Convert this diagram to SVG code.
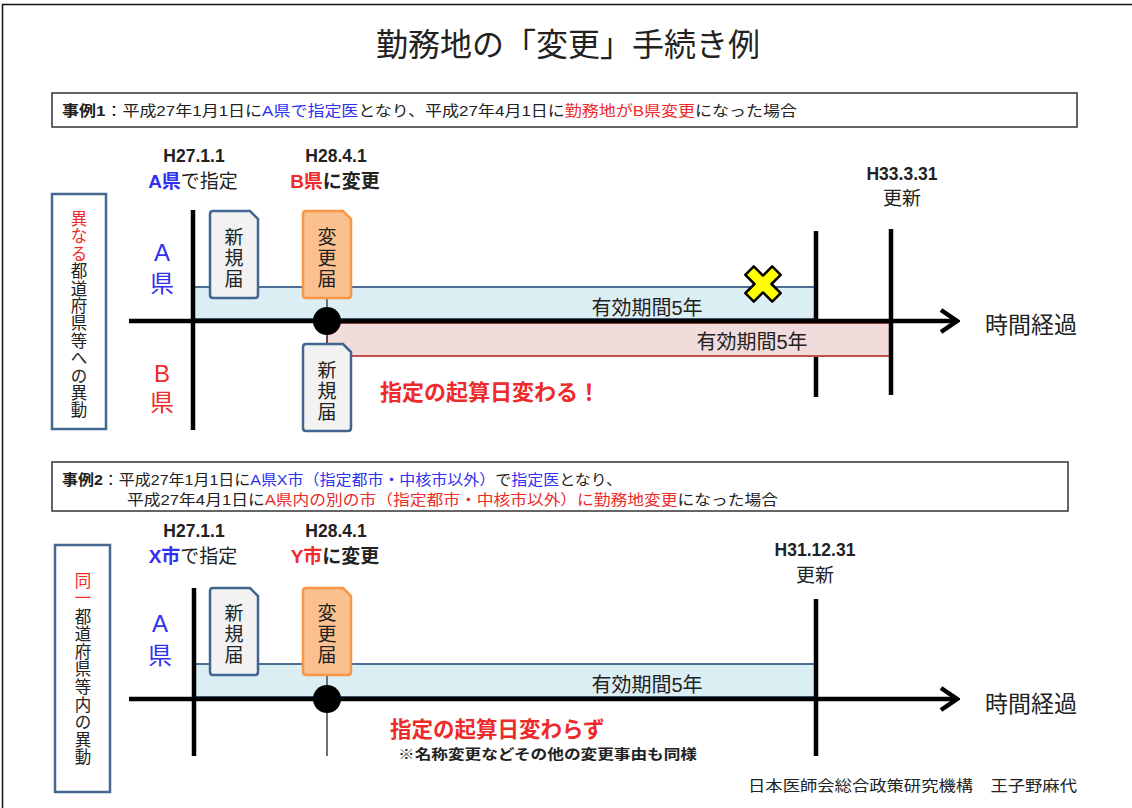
<svg xmlns="http://www.w3.org/2000/svg" xmlns:xlink="http://www.w3.org/1999/xlink" width="1132" height="808" viewBox="0 0 1132 808">
<style>
text{font-family:"Liberation Sans","Noto Sans CJK JP",sans-serif;fill:#222}
.jp{font-family:"Noto Sans CJK JP",sans-serif}
.b{fill:#3030f0}
.r{fill:#ee2a2a}
.bold{font-weight:bold}
.case{font-size:15px}
.date{font-size:17.5px;font-weight:bold;text-anchor:middle}
.lbl{font-size:19px;text-anchor:middle}
.pref{font-size:24px;text-anchor:middle}
.vt{font-size:16.5px;text-anchor:middle}
.doct{font-size:19px;text-anchor:middle}
.period{font-size:20px;text-anchor:middle}
.time{font-size:23px}
.frame{fill:none;stroke:#111;stroke-width:1.5}
.box{fill:#fff;stroke:#333;stroke-width:1.5}
.side{fill:#fff;stroke:#44688f;stroke-width:2.5}
.bandb{fill:#dbeef4;stroke:#4a6e96;stroke-width:2}
.bandr{fill:#f2dcdb;stroke:#c0504d;stroke-width:2}
.vline{stroke:#000;stroke-width:4.5;fill:none}
.axis{stroke:#000;stroke-width:4.5;fill:none;marker-end:url(#arr)}
.thin{stroke:#444;stroke-width:1.5;fill:none}
.docnew{fill:#f2f2f2;stroke:#41668f;stroke-width:2.5}
.docchg{fill:#fac08f;stroke:#f79646;stroke-width:2.5}
</style>
<defs>
<marker id="arr" viewBox="0 0 22 28" refX="19" refY="14" markerWidth="22" markerHeight="28" markerUnits="userSpaceOnUse" orient="auto">
<path d="M3,3 L19,14 L3,25" fill="none" stroke="#000" stroke-width="4.5"/>
</marker>
<path id="doc" d="M3,0 H40 L48,8 V84 Q48,87 45,87 H3 Q0,87 0,84 V3 Q0,0 3,0 Z"/>
</defs>
<rect width="1132" height="808" fill="#fff"/>
<path class="frame" d="M2.5,808 V4.5 H1132"/>

<g id="title">
<text x="568" y="56" text-anchor="middle" font-size="32" class="jp" fill="#111">勤務地の「変更」手続き例</text>
</g>

<!-- Case 1 -->
<g id="case1-header">
<rect class="box" x="52" y="93" width="1025" height="34"/>
<text class="case" x="62" y="116" textLength="735" lengthAdjust="spacingAndGlyphs"><tspan class="bold">事例1</tspan>：平成27年1月1日に<tspan class="b">A県で指定医</tspan>となり、平成27年4月1日に<tspan class="r">勤務地がB県変更</tspan>になった場合</text>
</g>

<g id="case1-side">
<rect class="side" x="52" y="194" width="54" height="235"/>
<text class="vt" x="79" y="225"><tspan class="r" x="79" dy="0">異</tspan><tspan class="r" x="79" dy="17.4">な</tspan><tspan class="r" x="79" dy="17.4">る</tspan><tspan x="79" dy="17.4">都</tspan><tspan x="79" dy="17.4">道</tspan><tspan x="79" dy="17.4">府</tspan><tspan x="79" dy="17.4">県</tspan><tspan x="79" dy="17.4">等</tspan><tspan x="79" dy="17.4">へ</tspan><tspan x="79" dy="17.4">の</tspan><tspan x="79" dy="17.4">異</tspan><tspan x="79" dy="17.4">動</tspan></text>
</g>

<g id="case1-labels">
<text class="pref b" x="162" y="261">A</text>
<text class="pref b" x="162" y="292">県</text>
<text class="pref r" x="162" y="382">B</text>
<text class="pref r" x="162" y="411">県</text>
<text class="date" x="194" y="162">H27.1.1</text>
<text class="lbl" x="193" y="188"><tspan class="b bold">A県</tspan>で指定</text>
<text class="date" x="336" y="162">H28.4.1</text>
<text class="lbl bold" x="335" y="188"><tspan class="r">B県</tspan>に変更</text>
<text class="date" x="902" y="180">H33.3.31</text>
<text class="lbl" x="902" y="205" font-size="18">更新</text>
</g>

<g id="case1-bands">
<rect class="bandb" x="194" y="287" width="622" height="32"/>
</g>

<g id="connectors">
<line class="vline" x1="816" y1="231" x2="816" y2="397"/>
<rect class="bandr" x="327" y="323" width="564" height="33"/>
<line class="vline" x1="891" y1="229" x2="891" y2="395"/>
<line class="axis" x1="129" y1="321" x2="957" y2="321"/>
<line class="vline" x1="193" y1="210" x2="193" y2="430" stroke-width="5"/>
<line class="thin" x1="327" y1="297" x2="327" y2="343"/>
</g>

<g id="case1-docs">
<g id="doc-new-a"><use xlink:href="#doc" x="210" y="211" class="docnew"/>
<text class="doct" x="234"><tspan x="234" y="244">新</tspan><tspan x="234" y="265">規</tspan><tspan x="234" y="286">届</tspan></text></g>
<g id="doc-chg-1"><use xlink:href="#doc" x="303" y="211" class="docchg"/>
<text class="doct" x="327"><tspan x="327" y="244">変</tspan><tspan x="327" y="265">更</tspan><tspan x="327" y="286">届</tspan></text></g>
<g id="doc-new-b"><use xlink:href="#doc" x="303" y="344" class="docnew"/>
<text class="doct" x="327"><tspan x="327" y="377">新</tspan><tspan x="327" y="398">規</tspan><tspan x="327" y="419">届</tspan></text></g>
<circle cx="327" cy="321" r="14" fill="#000"/>
</g>

<g id="case1-cross">
<path d="M-6,-19 H6 V-6 H19 V6 H6 V19 H-6 V6 H-19 V-6 H-6 Z" transform="translate(763,284) rotate(45)" fill="#ffff00" stroke="#000" stroke-width="2.5" stroke-linejoin="round"/>
</g>

<g id="case1-text">
<text class="period" x="647" y="315">有効期間5年</text>
<text class="period" x="752" y="349">有効期間5年</text>
<text class="time" x="985" y="333">時間経過</text>
<text class="r bold" x="380" y="400" font-size="22">指定の起算日変わる！</text>
</g>

<!-- Case 2 -->
<g id="case2-header">
<rect class="box" x="52" y="462" width="1016" height="49"/>
<text class="case" x="62" y="485" textLength="560" lengthAdjust="spacingAndGlyphs"><tspan class="bold">事例2</tspan>：平成27年1月1日に<tspan class="b">A県X市（指定都市・中核市以外）</tspan>で<tspan class="b">指定医</tspan>となり、</text>
<text class="case" x="127" y="505" textLength="651" lengthAdjust="spacingAndGlyphs">平成27年4月1日に<tspan class="r">A県内の別の市（指定都市・中核市以外）に勤務地変更</tspan>になった場合</text>
</g>

<g id="case2-side">
<rect class="side" x="55" y="545" width="55" height="247"/>
<text class="vt" x="83" y="587" font-size="16"><tspan class="r" x="83" dy="0">同</tspan><tspan class="r" x="83" dy="17">一</tspan><tspan x="83" dy="18.5">都</tspan><tspan x="83" dy="17.6">道</tspan><tspan x="83" dy="17.6">府</tspan><tspan x="83" dy="17.6">県</tspan><tspan x="83" dy="17.6">等</tspan><tspan x="83" dy="17.6">内</tspan><tspan x="83" dy="17.6">の</tspan><tspan x="83" dy="17.6">異</tspan><tspan x="83" dy="17.6">動</tspan></text>
</g>

<g id="case2-labels">
<text class="pref b" x="160" y="632">A</text>
<text class="pref b" x="160" y="664">県</text>
<text class="date" x="194" y="537">H27.1.1</text>
<text class="lbl" x="193" y="563"><tspan class="b bold">X市</tspan>で指定</text>
<text class="date" x="336" y="537">H28.4.1</text>
<text class="lbl bold" x="335" y="563"><tspan class="r">Y市</tspan>に変更</text>
<text class="date" x="815" y="556">H31.12.31</text>
<text class="lbl" x="815" y="582" font-size="18">更新</text>
</g>

<g id="case2-band">
<rect class="bandb" x="194" y="664" width="622" height="33"/>
</g>

<g id="connectors2">
<line class="vline" x1="816" y1="599" x2="816" y2="756"/>
<line class="axis" x1="129" y1="699" x2="957" y2="699"/>
<line class="vline" x1="194" y1="588" x2="194" y2="756" stroke-width="5"/>
<line class="thin" x1="327" y1="675" x2="327" y2="756"/>
</g>

<g id="case2-docs">
<g id="doc-new-2"><use xlink:href="#doc" x="210" y="588" class="docnew"/>
<text class="doct" x="234"><tspan x="234" y="620">新</tspan><tspan x="234" y="641">規</tspan><tspan x="234" y="662">届</tspan></text></g>
<g id="doc-chg-2"><use xlink:href="#doc" x="303" y="588" class="docchg"/>
<text class="doct" x="327"><tspan x="327" y="620">変</tspan><tspan x="327" y="641">更</tspan><tspan x="327" y="662">届</tspan></text></g>
<circle cx="327" cy="699" r="14" fill="#000"/>
</g>

<g id="case2-text">
<text class="period" x="647" y="692" font-size="22">有効期間5年</text>
<text class="time" x="985" y="712">時間経過</text>
<text class="r bold" x="390" y="737" font-size="21.5">指定の起算日変わらず</text>
<text class="bold" x="398" y="759" font-size="14" textLength="299" lengthAdjust="spacingAndGlyphs">※名称変更などその他の変更事由も同様</text>
<text x="748" y="791" font-size="15" textLength="329" lengthAdjust="spacingAndGlyphs">日本医師会総合政策研究機構　王子野麻代</text>
</g>
</svg>
